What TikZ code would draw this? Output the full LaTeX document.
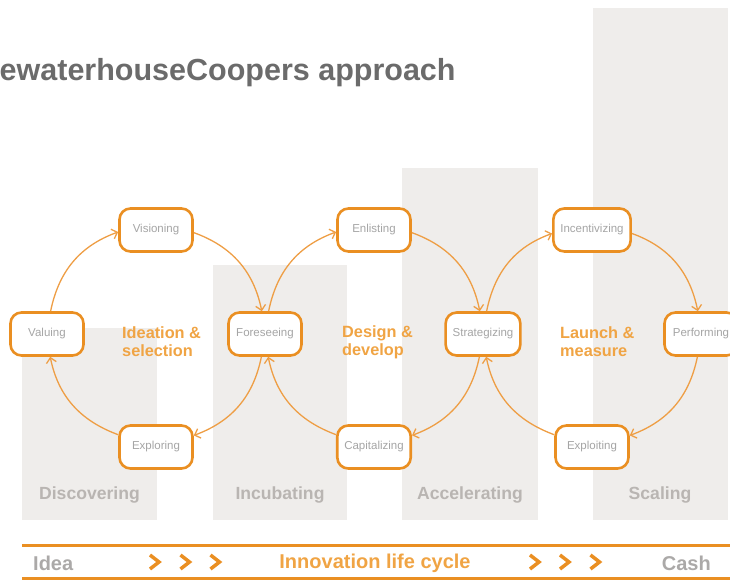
\documentclass[tikz,border=0pt]{standalone}
\usepackage{fontspec}
\setmainfont{Liberation Sans}
\usetikzlibrary{arrows.meta}
\definecolor{org}{HTML}{EA8F22}
\definecolor{orgline}{HTML}{EE9E45}
\definecolor{orgtxt}{HTML}{F0A444}
\definecolor{bargray}{HTML}{EFEDEB}
\definecolor{barlbl}{HTML}{B9B5B2}
\definecolor{nodetxt}{HTML}{A5A5A5}
\definecolor{titlegray}{HTML}{6B6B6B}
\definecolor{btxt}{HTML}{ABA9A8}
\begin{document}
\begin{tikzpicture}[x=1pt,y=1pt,
 stage/.style={draw=org, line width=2.6pt, rounded corners=11pt, fill=white, minimum width=73pt, minimum height=43pt, inner xsep=7pt, font=\fontsize{11.5}{13}\selectfont, text=nodetxt},
 flow/.style={draw=orgline, line width=1.3pt, -{Straight Barb[length=5pt,width=10pt]}},
 phase/.style={font=\fontsize{16.3}{18}\selectfont\bfseries, text=orgtxt, align=left, anchor=west, inner sep=0pt},
 bar/.style={fill=bargray, draw=none},
 barlabel/.style={font=\fontsize{17.6}{20}\selectfont\bfseries, text=barlbl, inner sep=0pt},
 chev/.style={draw=org, line width=3.5pt},
 band/.style={draw=org, line width=3pt},
 graytxt/.style={font=\fontsize{20}{24}\selectfont\bfseries, text=btxt, inner sep=0pt},
]
\useasboundingbox (0,0) rectangle (730,581);
\clip (0,0) rectangle (730,581);

% background bars
\fill[bar] (22,61) rectangle (157,253);
\fill[bar] (213,61) rectangle (347,316);
\fill[bar] (402,61) rectangle (538,413);
\fill[bar] (593,61) rectangle (728,573);

\node[barlabel] (discovering) at (89.5,86) {Discovering};
\node[barlabel] (incubating) at (280,86) {Incubating};
\node[barlabel] (accelerating) at (470,86) {Accelerating};
\node[barlabel] (scaling) at (660,86) {Scaling};

% title
\node[anchor=base west, inner sep=0pt, font=\fontsize{30.5}{35}\selectfont\bfseries, text=titlegray] (title) at (-0.5,500) {ewaterhouseCoopers approach};

% stage nodes
\node[stage] (valuing) at (47,247) {Valuing};
\node[stage] (visioning) at (156,351) {Visioning};
\node[stage] (foreseeing) at (265,247) {Foreseeing};
\node[stage] (exploring) at (156,134) {Exploring};
\node[stage] (enlisting) at (374,351) {Enlisting};
\node[stage] (strategizing) at (483,247) {Strategizing};
\node[stage] (capitalizing) at (374,134) {Capitalizing};
\node[stage] (incentivizing) at (592,351) {Incentivizing};
\node[stage] (performing) at (701,247) {Performing};
\node[stage] (exploiting) at (592,134) {Exploiting};

% phase labels
\node[phase] (ideation) at (122,239) {Ideation \&\\selection};
\node[phase] (design) at (342,239) {Design \&\\develop};
\node[phase] (launch) at (560,239) {Launch \&\\measure};

% circle 1
\draw[flow] (valuing.81.5) to[out=78.5,in=199.8] (visioning.183.8);
\draw[flow] (visioning.356.2) to[out=-19.8,in=101.5] (foreseeing.98.5);
\draw[flow] (foreseeing.261.5) to[out=-101.5,in=20.3] (exploring.17.3);
\draw[flow] (exploring.162.7) to[out=159.7,in=-78.5] (valuing.278.5);
% circle 2
\draw[flow] (foreseeing.81.5) to[out=78.5,in=199.8] (enlisting.183.8);
\draw[flow] (enlisting.356.2) to[out=-19.8,in=101.5] (strategizing.98.5);
\draw[flow] (strategizing.261.5) to[out=-101.5,in=20.3] (capitalizing.17.3);
\draw[flow] (capitalizing.162.7) to[out=159.7,in=-78.5] (foreseeing.278.5);
% circle 3
\draw[flow] (strategizing.81.5) to[out=78.5,in=199.8] (incentivizing.185);
\draw[flow] (incentivizing.355) to[out=-19.8,in=101.5] (performing.98.5);
\draw[flow] (performing.261.5) to[out=-101.5,in=20.3] (exploiting.17.3);
\draw[flow] (exploiting.162.7) to[out=159.7,in=-78.5] (strategizing.278.5);

% bottom band
\draw[band] (22,36) -- (735,36);
\draw[band] (22,3) -- (735,3);
\node[graytxt, anchor=west] (idea) at (33,18) {Idea};
\node[font=\fontsize{20}{24}\selectfont\bfseries, text=orgtxt, inner sep=0pt] (cycle) at (375,18) {Innovation life cycle};
\node[graytxt, anchor=east] (cash) at (711,18) {Cash};
\foreach \cx in {154.5,185,215,534.5,564.5,595}{
  \draw[chev] (\cx-4.5,26) -- (\cx+4.5,19) -- (\cx-4.5,12);
}
\end{tikzpicture}
\end{document}
